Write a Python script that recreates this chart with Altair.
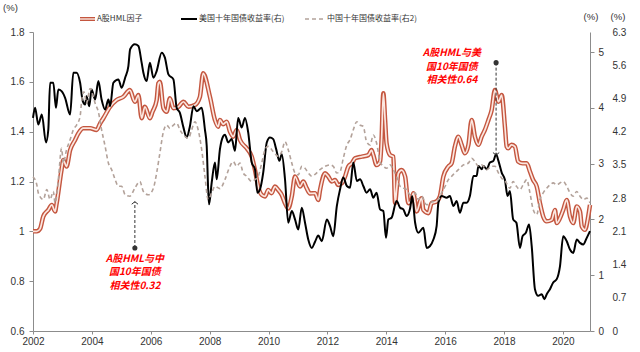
import altair as alt
import pandas as pd

# ---------------- data ----------------
HML = [
    (2002.00, 1.000), (2002.13, 1.000), (2002.24, 1.010), (2002.35, 1.060), (2002.52, 1.086),
    (2002.64, 1.106), (2002.75, 1.080), (2002.80, 1.110), (2002.97, 1.248), (2003.03, 1.286),
    (2003.14, 1.260), (2003.26, 1.326), (2003.43, 1.367), (2003.54, 1.393), (2003.71, 1.414),
    (2003.94, 1.414), (2004.16, 1.407), (2004.28, 1.433), (2004.39, 1.454), (2004.62, 1.500),
    (2004.84, 1.527), (2005.07, 1.540), (2005.29, 1.567), (2005.46, 1.520), (2005.58, 1.547),
    (2005.69, 1.454), (2005.80, 1.500), (2005.97, 1.454), (2006.06, 1.480), (2006.20, 1.527),
    (2006.26, 1.594), (2006.31, 1.600), (2006.43, 1.494), (2006.54, 1.480), (2006.65, 1.534),
    (2006.77, 1.494), (2006.94, 1.500), (2007.11, 1.520), (2007.28, 1.500), (2007.50, 1.507),
    (2007.67, 1.540), (2007.78, 1.634), (2008.01, 1.540), (2008.18, 1.447), (2008.29, 1.420),
    (2008.35, 1.447), (2008.46, 1.430), (2008.58, 1.440), (2008.69, 1.400), (2008.80, 1.380),
    (2008.92, 1.407), (2009.03, 1.367), (2009.26, 1.333), (2009.43, 1.300), (2009.54, 1.246),
    (2009.65, 1.180), (2009.77, 1.146), (2009.88, 1.140), (2009.99, 1.166), (2010.10, 1.153),
    (2010.22, 1.180), (2010.33, 1.166), (2010.45, 1.146), (2010.56, 1.113), (2010.67, 1.092),
    (2010.79, 1.140), (2010.90, 1.220), (2011.07, 1.180), (2011.18, 1.200), (2011.30, 1.172),
    (2011.41, 1.152), (2011.58, 1.153), (2011.69, 1.126), (2011.75, 1.166), (2011.92, 1.233),
    (2012.03, 1.220), (2012.15, 1.200), (2012.26, 1.206), (2012.37, 1.186), (2012.49, 1.193),
    (2012.60, 1.220), (2012.71, 1.260), (2012.83, 1.273), (2012.94, 1.293), (2013.17, 1.300),
    (2013.39, 1.306), (2013.50, 1.326), (2013.56, 1.306), (2013.67, 1.266), (2013.79, 1.280),
    (2013.84, 1.367), (2013.90, 1.554), (2013.96, 1.447), (2014.01, 1.353), (2014.13, 1.306),
    (2014.24, 1.300), (2014.30, 1.113), (2014.35, 1.166), (2014.41, 1.233), (2014.52, 1.246),
    (2014.64, 1.220), (2014.75, 1.113), (2014.86, 1.126), (2014.92, 1.153), (2015.03, 1.080),
    (2015.20, 1.133), (2015.26, 1.086), (2015.43, 1.073), (2015.54, 1.113), (2015.71, 1.120),
    (2015.82, 1.140), (2015.94, 1.220), (2016.11, 1.260), (2016.22, 1.273), (2016.33, 1.340),
    (2016.45, 1.380), (2016.56, 1.347), (2016.67, 1.313), (2016.79, 1.347), (2016.90, 1.447),
    (2017.01, 1.380), (2017.13, 1.347), (2017.24, 1.380), (2017.35, 1.407), (2017.47, 1.447),
    (2017.58, 1.487), (2017.69, 1.567), (2017.81, 1.520), (2017.92, 1.547), (2018.03, 1.420),
    (2018.09, 1.340), (2018.14, 1.333), (2018.25, 1.347), (2018.37, 1.340), (2018.48, 1.280),
    (2018.63, 1.273), (2018.77, 1.273), (2018.88, 1.240), (2018.99, 1.206), (2019.11, 1.180),
    (2019.22, 1.113), (2019.33, 1.060), (2019.45, 1.040), (2019.62, 1.046), (2019.73, 1.086),
    (2019.79, 1.033), (2019.90, 1.053), (2020.01, 1.086), (2020.13, 1.126), (2020.24, 1.060),
    (2020.35, 1.033), (2020.47, 1.100), (2020.58, 1.080), (2020.64, 1.020), (2020.75, 1.006),
    (2020.86, 1.060), (2020.92, 1.106),
]

US10Y = [
    (2002.00, 3.82), (2002.07, 4.00), (2002.18, 3.70), (2002.30, 3.88), (2002.44, 3.38),
    (2002.52, 3.61), (2002.58, 4.45), (2002.69, 4.45), (2002.78, 4.00), (2002.86, 4.33),
    (2002.97, 4.30), (2003.09, 4.18), (2003.26, 3.88), (2003.37, 4.63), (2003.48, 4.63),
    (2003.60, 4.45), (2003.69, 4.12), (2003.77, 4.06), (2003.82, 4.21), (2003.91, 4.03),
    (2003.99, 4.33), (2004.11, 4.15), (2004.22, 4.48), (2004.33, 4.15), (2004.45, 3.97),
    (2004.56, 4.15), (2004.62, 4.03), (2004.73, 4.45), (2004.90, 4.51), (2005.01, 4.36),
    (2005.13, 4.54), (2005.24, 4.75), (2005.30, 5.05), (2005.46, 5.14), (2005.58, 5.11),
    (2005.69, 4.81), (2005.75, 4.63), (2005.86, 4.48), (2005.97, 4.81), (2006.09, 4.54),
    (2006.20, 4.66), (2006.37, 4.99), (2006.48, 4.90), (2006.60, 4.60), (2006.77, 4.51),
    (2006.88, 4.00), (2006.99, 3.91), (2007.11, 3.65), (2007.22, 3.47), (2007.33, 3.67),
    (2007.45, 4.03), (2007.56, 3.94), (2007.73, 4.00), (2007.84, 3.61), (2007.90, 3.32),
    (2007.95, 2.54), (2007.98, 2.27), (2008.07, 2.66), (2008.18, 3.02), (2008.24, 2.72),
    (2008.35, 3.26), (2008.46, 3.49), (2008.52, 3.52), (2008.63, 3.38), (2008.75, 3.44),
    (2008.86, 3.23), (2008.97, 3.82), (2009.09, 3.65), (2009.20, 3.82), (2009.31, 3.56),
    (2009.43, 3.02), (2009.54, 2.90), (2009.62, 2.48), (2009.71, 2.54), (2009.82, 2.84),
    (2009.94, 3.38), (2010.05, 3.47), (2010.16, 3.44), (2010.26, 3.26), (2010.37, 3.05),
    (2010.45, 3.17), (2010.56, 2.72), (2010.67, 1.94), (2010.79, 2.15), (2010.90, 2.00),
    (2011.01, 1.82), (2011.13, 2.21), (2011.24, 1.94), (2011.35, 1.64), (2011.47, 1.49),
    (2011.58, 1.60), (2011.69, 1.71), (2011.81, 1.61), (2011.98, 2.00), (2012.09, 1.88),
    (2012.20, 1.70), (2012.32, 2.24), (2012.43, 2.54), (2012.54, 2.75), (2012.66, 2.60),
    (2012.77, 2.57), (2012.88, 3.02), (2013.00, 2.69), (2013.11, 2.72), (2013.22, 2.60),
    (2013.33, 2.48), (2013.45, 2.54), (2013.56, 2.39), (2013.67, 2.48), (2013.79, 2.18),
    (2013.90, 2.15), (2013.99, 1.67), (2014.07, 2.00), (2014.18, 2.03), (2014.35, 2.33),
    (2014.47, 2.21), (2014.58, 2.18), (2014.69, 2.06), (2014.81, 2.20), (2014.88, 2.42),
    (2014.98, 1.94), (2015.09, 1.76), (2015.26, 1.85), (2015.37, 1.49), (2015.48, 1.52),
    (2015.60, 1.64), (2015.71, 1.88), (2015.77, 2.30), (2015.88, 2.42), (2016.05, 2.39),
    (2016.16, 2.42), (2016.28, 2.24), (2016.39, 2.33), (2016.50, 2.12), (2016.62, 2.30),
    (2016.73, 2.30), (2016.84, 2.42), (2016.96, 2.78), (2017.07, 2.78), (2017.13, 2.96),
    (2017.24, 2.90), (2017.30, 2.96), (2017.41, 2.90), (2017.52, 3.02), (2017.64, 3.05),
    (2017.73, 3.17), (2017.81, 3.05), (2017.92, 2.84), (2018.03, 2.71), (2018.12, 2.42),
    (2018.20, 2.51), (2018.31, 2.00), (2018.42, 1.94), (2018.54, 1.49), (2018.63, 1.70),
    (2018.74, 1.76), (2018.85, 1.91), (2018.94, 1.52), (2019.05, 0.75), (2019.16, 0.63),
    (2019.28, 0.66), (2019.37, 0.57), (2019.45, 0.66), (2019.56, 0.75), (2019.67, 0.87),
    (2019.79, 0.93), (2019.90, 1.16), (2020.01, 1.70), (2020.13, 1.61), (2020.24, 1.46),
    (2020.35, 1.40), (2020.47, 1.64), (2020.58, 1.58), (2020.69, 1.55), (2020.81, 1.67),
    (2020.92, 1.79),
]

CN10Y = [
    (2002.00, 3.25), (2002.13, 3.08), (2002.18, 2.91), (2002.35, 2.77), (2002.47, 2.98),
    (2002.58, 2.77), (2002.69, 2.94), (2002.75, 2.70), (2002.86, 3.19), (2002.97, 3.85),
    (2003.03, 3.54), (2003.14, 3.82), (2003.26, 4.03), (2003.37, 4.24), (2003.48, 4.34),
    (2003.60, 4.52), (2003.65, 4.83), (2003.73, 5.04), (2003.82, 4.80), (2003.94, 5.11),
    (2004.05, 4.94), (2004.11, 4.80), (2004.22, 4.62), (2004.33, 4.24), (2004.45, 3.89),
    (2004.56, 3.54), (2004.67, 3.40), (2004.79, 3.19), (2004.90, 3.05), (2005.01, 3.05),
    (2005.13, 2.87), (2005.29, 2.84), (2005.46, 3.01), (2005.63, 3.15), (2005.75, 2.94),
    (2005.92, 2.87), (2006.09, 3.01), (2006.20, 3.33), (2006.31, 3.75), (2006.43, 4.20),
    (2006.54, 4.34), (2006.65, 4.27), (2006.77, 4.34), (2006.88, 4.38), (2006.99, 4.24),
    (2007.16, 4.10), (2007.28, 4.06), (2007.39, 4.24), (2007.50, 4.41), (2007.61, 4.24),
    (2007.73, 3.82), (2007.84, 3.26), (2007.95, 2.77), (2008.07, 2.91), (2008.18, 3.05),
    (2008.35, 3.00), (2008.52, 3.19), (2008.69, 3.47), (2008.80, 3.57), (2008.92, 3.47),
    (2009.03, 3.54), (2009.14, 3.33), (2009.26, 3.26), (2009.43, 3.15), (2009.54, 3.19),
    (2009.65, 3.26), (2009.77, 3.54), (2009.88, 3.82), (2009.99, 3.89), (2010.16, 3.78),
    (2010.33, 3.68), (2010.45, 3.78), (2010.56, 3.99), (2010.67, 3.82), (2010.79, 3.54),
    (2010.90, 3.33), (2011.01, 3.29), (2011.13, 3.47), (2011.24, 3.43), (2011.35, 3.33),
    (2011.47, 3.26), (2011.58, 3.30), (2011.75, 3.40), (2011.92, 3.47), (2012.09, 3.50),
    (2012.20, 3.47), (2012.32, 3.33), (2012.43, 3.36), (2012.54, 3.64), (2012.66, 3.92),
    (2012.77, 4.03), (2012.88, 4.24), (2013.00, 4.41), (2013.11, 4.34), (2013.22, 4.31),
    (2013.33, 3.99), (2013.45, 3.92), (2013.56, 4.13), (2013.67, 3.96), (2013.79, 3.57),
    (2013.90, 3.47), (2014.01, 3.43), (2014.13, 3.50), (2014.24, 3.40), (2014.35, 3.26),
    (2014.47, 3.05), (2014.58, 3.01), (2014.69, 2.98), (2014.81, 2.87), (2014.98, 2.91),
    (2015.09, 2.77), (2015.20, 2.84), (2015.37, 2.66), (2015.48, 2.70), (2015.60, 2.73),
    (2015.77, 2.77), (2015.88, 2.91), (2016.00, 3.05), (2016.11, 3.19), (2016.22, 3.26),
    (2016.33, 3.33), (2016.45, 3.40), (2016.62, 3.50), (2016.79, 3.54), (2016.90, 3.64),
    (2017.01, 3.57), (2017.13, 3.47), (2017.24, 3.50), (2017.41, 3.40), (2017.58, 3.47),
    (2017.69, 3.47), (2017.81, 3.33), (2017.92, 3.22), (2018.03, 3.17), (2018.20, 3.01),
    (2018.31, 3.15), (2018.42, 3.05), (2018.54, 2.98), (2018.65, 3.08), (2018.77, 3.19),
    (2018.88, 2.91), (2018.99, 2.56), (2019.11, 2.45), (2019.22, 2.77), (2019.33, 2.91),
    (2019.45, 3.01), (2019.56, 3.08), (2019.67, 3.12), (2019.79, 3.08), (2019.90, 3.12),
    (2020.01, 3.15), (2020.13, 3.05), (2020.24, 2.91), (2020.35, 2.84), (2020.47, 2.94),
    (2020.58, 2.84), (2020.69, 2.77), (2020.81, 2.80), (2020.92, 2.70),
]

X_TICKS = list(range(2002, 2021, 2))
LEFT_TICKS = [0.6, 0.8, 1.0, 1.2, 1.4, 1.6, 1.8]
RIGHT_TICKS = [0, 1, 2, 3, 4, 5]
RIGHT2_TICKS = [0, 0.7, 1.4, 2.1, 2.8, 3.5, 4.2, 4.9, 5.6, 6.3]

SERIES_NAMES = ["A股HML因子", "美国十年国债收益率(右)", "中国十年国债收益率(右2)"]
NOTE_CN = ["A股HML与中", "国10年国债", "相关性0.32"]
NOTE_US = ["A股HML与美", "国10年国债", "相关性0.64"]

# ---------------- styling ----------------
FONT = "Liberation Sans"
CJK = "Noto Sans CJK SC"
AX = "#8c8c8c"
LBL = "#333333"
RED_OUT = "#c4563f"
RED_IN = "#fbe7e0"
CN_COL = "#b3a29a"

hml_df = pd.DataFrame(HML, columns=["year", "v"])
us_df = pd.DataFrame(US10Y, columns=["year", "v"])
cn_df = pd.DataFrame(CN10Y, columns=["year", "v"])

x_scale = alt.Scale(domain=[2002, 2020.92], nice=False, zero=False)
x_axis = alt.Axis(values=X_TICKS, format="d", title=None, grid=False,
                  labelFont=FONT, labelFontSize=10, labelColor=LBL,
                  domainColor=AX, tickColor=AX, tickSize=3, labelPadding=2,
                  labelFlush=False)
X = alt.X("year:Q", scale=x_scale, axis=x_axis)

left_scale = alt.Scale(domain=[0.6, 1.8], nice=False, zero=False)
left_axis = alt.Axis(values=LEFT_TICKS, format="~g", title=None, grid=False,
                     labelFont=FONT, labelFontSize=10, labelColor=LBL,
                     domainColor=AX, tickColor=AX, tickSize=4, labelPadding=5)

base_h = alt.Chart(hml_df).encode(x=X, y=alt.Y("v:Q", scale=left_scale, axis=left_axis))
hml_outer = base_h.mark_line(color=RED_OUT, strokeWidth=4.5, interpolate="monotone")
hml_inner = base_h.mark_line(color=RED_IN, strokeWidth=1.7, interpolate="monotone")
hml_group = alt.layer(hml_outer, hml_inner)

us_line = alt.Chart(us_df).mark_line(color="#000000", strokeWidth=2,
                                     interpolate="monotone").encode(
    x=X,
    y=alt.Y("v:Q", scale=alt.Scale(domain=[0, 5.36], nice=False),
            axis=alt.Axis(orient="right", values=RIGHT_TICKS, format="d", title=None,
                          grid=False, labelFont=FONT, labelFontSize=10, labelColor=LBL,
                          domainColor=AX, tickColor=AX, tickSize=4, labelPadding=4)))

cn_line = alt.Chart(cn_df).mark_line(color=CN_COL, strokeWidth=1.6, strokeDash=[4, 3],
                                     interpolate="monotone").encode(
    x=X,
    y=alt.Y("v:Q", scale=alt.Scale(domain=[0, 6.3], nice=False),
            axis=alt.Axis(orient="right", values=RIGHT2_TICKS, format="~g", title=None,
                          grid=False, offset=19, domain=False, ticks=False,
                          labelFont=FONT, labelFontSize=10, labelColor=LBL, labelPadding=3)))

# ---------------- annotations (left-axis coordinates) ----------------
ann = pd.DataFrame({"x": [2005.46, 2017.73], "y0": [0.933, 1.677], "y1": [1.119, 1.306]})
ann_scale = alt.Scale(domain=[0.6, 1.8], nice=False, zero=False)
AX_ = alt.X("x:Q", scale=x_scale, axis=x_axis)
ann_rule = alt.Chart(ann).mark_rule(color="#333333", strokeWidth=1, strokeDash=[3, 2]).encode(
    x=AX_, y=alt.Y("y0:Q", scale=ann_scale, axis=None), y2="y1:Q")
ann_dot = alt.Chart(ann).mark_circle(color="#333333", size=26, opacity=1).encode(
    x=AX_, y=alt.Y("y0:Q", scale=ann_scale, axis=None))
up_df = ann.iloc[[0]]
dn_df = ann.iloc[[1]]
chev_up = alt.Chart(up_df).mark_point(shape="M-1,0.8L0,0L1,0.8", filled=False, size=40,
                                      color="#333333", strokeWidth=1, opacity=1).encode(
    x=AX_, y=alt.Y("y1:Q", scale=ann_scale, axis=None))
chev_dn = alt.Chart(dn_df).mark_point(shape="M-1,-0.8L0,0L1,-0.8", filled=False, size=40,
                                      color="#333333", strokeWidth=1, opacity=1).encode(
    x=AX_, y=alt.Y("y1:Q", scale=ann_scale, axis=None))

txt_df = pd.DataFrame({"x": [2005.46, 2016.23], "y": [0.91, 1.735]})
note_style = dict(color="#ff0000", font=CJK, fontSize=10, fontWeight="bold",
                  fontStyle="italic", lineHeight=13.5, align="center", baseline="top")
note1 = alt.Chart(txt_df.iloc[[0]]).mark_text(**note_style).encode(
    x=AX_, y=alt.Y("y:Q", scale=ann_scale, axis=None), text=alt.value(NOTE_CN))
note2 = alt.Chart(txt_df.iloc[[1]]).mark_text(**note_style).encode(
    x=AX_, y=alt.Y("y:Q", scale=ann_scale, axis=None), text=alt.value(NOTE_US))
ann_group = alt.layer(ann_rule, ann_dot, chev_up, chev_dn, note1, note2)

# ---------------- legend & unit labels (pixel layout) ----------------
one = pd.DataFrame({"a": [0]})


def seg(x1, x2, y, **kw):
    return alt.Chart(one).mark_rule(**kw).encode(
        x=alt.value(x1), x2=alt.value(x2), y=alt.value(y))


def label(x, y, t, **kw):
    style = dict(font=CJK, fontSize=8, color=LBL, align="left", baseline="middle")
    style.update(kw)
    return alt.Chart(one).mark_text(**style).encode(
        x=alt.value(x), y=alt.value(y), text=alt.value(t))


LY = -13
deco = alt.layer(
    seg(47, 62, LY, color=RED_OUT, strokeWidth=4),
    seg(47, 62, LY, color=RED_IN, strokeWidth=1.4),
    label(64, LY, SERIES_NAMES[0]),
    seg(148, 164, LY, color="#000000", strokeWidth=2),
    label(166, LY, SERIES_NAMES[1]),
    seg(272, 292, LY, color=CN_COL, strokeWidth=1.6, strokeDash=[4, 3]),
    label(294, LY, SERIES_NAMES[2]),
    label(-22.5, -24, "(%)", font=FONT, fontSize=9.5, align="center"),
    label(558, -15, "(%)", font=FONT, fontSize=9.5, align="center"),
    label(585, -15, "(%)", font=FONT, fontSize=9.5, align="center"),
)

chart = alt.layer(hml_group, us_line, cn_line, ann_group, deco).resolve_scale(
    y="independent"
).properties(
    width=557, height=299,
    padding={"left": 33, "top": 32, "right": 50, "bottom": 21},
    autosize=alt.AutoSizeParams(type="none"),
    background="white",
).configure_view(stroke=None)

chart.save("out.html", embed_options={"renderer": "svg", "actions": False})
